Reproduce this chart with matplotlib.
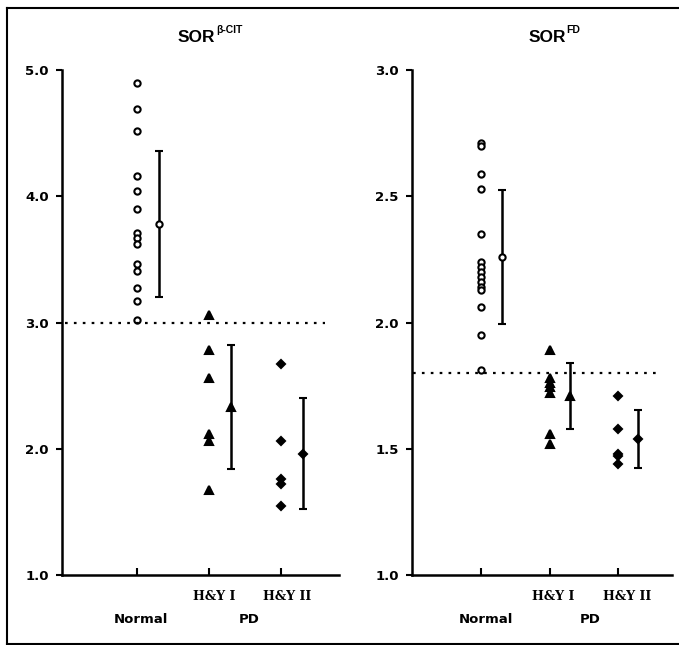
import matplotlib.pyplot as plt
from matplotlib.lines import Line2D

plt.rcParams['font.family'] = ['DejaVu Sans']

# SOR beta-CIT values
cit_normal = [4.90, 4.69, 4.52, 4.16, 4.04, 3.90, 3.71, 3.67, 3.62, 3.46, 3.41, 3.27, 3.17, 3.02]
cit_hy1 = [3.06, 2.78, 2.56, 2.12, 2.06, 1.67]
cit_hy2 = [2.67, 2.06, 1.76, 1.72, 1.55]
cit_mean = [3.78, 2.33, 1.96]
cit_sd = [0.575, 0.49, 0.44]
cit_cutoff = 3.0

# SOR FD values
fd_normal = [2.71, 2.70, 2.59, 2.53, 2.35, 2.24, 2.22, 2.20, 2.18, 2.16, 2.14, 2.13, 2.06, 1.95, 1.81]
fd_hy1 = [1.89, 1.78, 1.76, 1.745, 1.72, 1.56, 1.52]
fd_hy2 = [1.71, 1.58, 1.48, 1.47, 1.44]
fd_mean = [2.26, 1.71, 1.54]
fd_sd = [0.265, 0.13, 0.115]
fd_cutoff = 1.8

groups = [1, 2, 3]
group_labels = ['', 'H&Y I', 'H&Y II']
markers = ['o', '^', 'D']


def draw_panel(ax, pts, means, sds, cutoff, ylim, yticks, offs, pd_x, lab_dx):
    for g, vals, m in zip(groups, pts, markers):
        face = 'white' if m == 'o' else 'black'
        size = 4.5 if m == 'o' else (6 if m == '^' else 4.5)
        ax.plot([g] * len(vals), vals, linestyle='none', marker=m, ms=size,
                mfc=face, mec='black', mew=1.5)
        xm = g + 0.3
        ax.errorbar(xm, means[g - 1], yerr=sds[g - 1], fmt=m, ms=size,
                    mfc=face, mec='black', mew=1.5, ecolor='black',
                    elinewidth=1.8, capsize=3, capthick=1.8)
    ax.plot([0, 3.6], [cutoff, cutoff], color='black', ls=(0, (1.2, 2.8)), lw=1.6)
    ax.set_xlim(offs, 3.8)
    ax.set_ylim(*ylim)
    ax.set_yticks(yticks)
    ax.set_yticklabels(['%.1f' % t for t in yticks], fontweight='bold', fontsize=9.5)
    ax.set_xticks(groups)
    ax.set_xticklabels([])
    ax.tick_params(axis='x', direction='in', length=5, width=1.5)
    ax.tick_params(axis='y', direction='out', length=4.5, width=1.5, pad=5)
    ax.spines['top'].set_visible(False)
    ax.spines['right'].set_visible(False)
    ax.spines['left'].set_linewidth(1.8)
    ax.spines['bottom'].set_linewidth(1.8)
    tr = ax.get_xaxis_transform()
    for g, lab, dx in zip(groups, group_labels, lab_dx):
        ax.text(g + dx, -0.042, lab, transform=tr, ha='center', va='center',
                family='DejaVu Serif', fontweight='bold', fontsize=9)
    ax.text(1.06, -0.088, 'Normal', transform=tr,
            ha='center', va='center', fontweight='bold', fontsize=9.5)
    ax.text(pd_x, -0.088, 'PD', transform=tr,
            ha='center', va='center', fontweight='bold', fontsize=9.5)


fig = plt.figure(figsize=(6.79, 6.45), dpi=100)
ax1 = fig.add_axes([0.0913, 0.1085, 0.4080, 0.783])
ax2 = fig.add_axes([0.6068, 0.1085, 0.3830, 0.783])

draw_panel(ax1, [cit_normal, cit_hy1, cit_hy2], cit_mean, cit_sd, cit_cutoff,
           (1.0, 5.0), [1.0, 2.0, 3.0, 4.0, 5.0], -0.04, 2.55, [0, 0.07, 0.08])
draw_panel(ax2, [fd_normal, fd_hy1, fd_hy2], fd_mean, fd_sd, fd_cutoff,
           (1.0, 3.0), [1.0, 1.5, 2.0, 2.5, 3.0], -0.02, 2.6, [0, 0.06, 0.14])

# titles with superscripts
tkw = dict(family='Liberation Sans', fontweight='bold', fontsize=12.5,
           ha='left', va='baseline')
skw = dict(family='Liberation Sans', fontweight='bold', fontsize=7.5,
           ha='left', va='top', xytext=(0.5, 3.5), textcoords='offset points',
           annotation_clip=False)
t1 = fig.text(0.262, 0.935, 'SOR', **tkw)
ax1.annotate('β-CIT', xy=(1.0, 1.0), xycoords=t1, **skw)
t2 = fig.text(0.778, 0.935, 'SOR', **tkw)
ax2.annotate('FD', xy=(1.0, 1.0), xycoords=t2, **skw)

# outer frame (right edge cut off in the original)
fr = dict(color='black', lw=1.5, transform=fig.transFigure)
fig.add_artist(Line2D([0.0105, 1.0], [0.9876, 0.9876], **fr))
fig.add_artist(Line2D([0.0105, 0.0105], [0.0016, 0.9876], **fr))
fig.add_artist(Line2D([0.0105, 1.0], [0.0016, 0.0016], **fr))

plt.savefig('out.png', dpi=100)
